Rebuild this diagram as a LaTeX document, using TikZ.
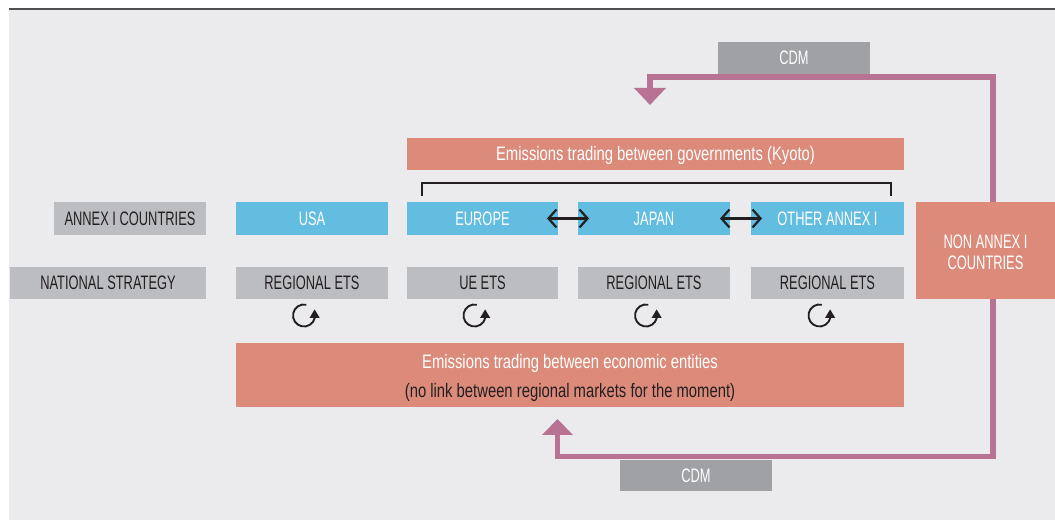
\documentclass[tikz,border=0pt]{standalone}
\usepackage{fontspec}
\setmainfont{Liberation Sans}[FakeStretch=0.66]
\newfontfamily\mixfont{Liberation Sans}[FakeStretch=0.76]
\usetikzlibrary{arrows.meta}
\definecolor{bg}{HTML}{EBEBED}
\definecolor{topline}{HTML}{505052}
\definecolor{lgray}{HTML}{BCBDC0}
\definecolor{dgray}{HTML}{A0A1A4}
\definecolor{cblue}{HTML}{62BDE1}
\definecolor{salmon}{HTML}{DC8B7B}
\definecolor{plum}{HTML}{B87394}
\definecolor{txtdark}{HTML}{231F20}
\begin{document}
\begin{tikzpicture}[x=1pt,y=1pt,
  base/.style={inner sep=0pt, outer sep=0pt, align=center, font=\fontsize{19.5}{21}\selectfont},
  mixed/.style={font=\mixfont\fontsize{19.5}{21}\selectfont},
  graybox/.style={base, fill=lgray, text=txtdark},
  cdmbox/.style={base, fill=dgray, text=white},
  bluebox/.style={base, fill=cblue, text=white},
  salmonbox/.style={base, fill=salmon, text=white},
  cdmline/.style={draw=plum, line width=5.5pt, line cap=butt, line join=miter},
  dbl/.style={draw=txtdark, line width=2.2pt, {Straight Barb[length=8pt,width=18pt]}-{Straight Barb[length=8pt,width=18pt]}},
  cyc/.style={draw=txtdark, line width=1.9pt, -{Triangle[length=8.5pt,width=9.5pt]}},
  brk/.style={draw=txtdark, line width=1.1pt}
]
\useasboundingbox (0,0) rectangle (1055,521);
\fill[bg] (9,1) rectangle (1055,512);
\draw[topline, line width=2pt] (9,512) -- (1055,512);

% purple CDM loops (behind the NON ANNEX box)
\coordinate (vmid) at (993,270);
\coordinate (tturn) at (993,444);
\coordinate (ttip) at (650,416);
\coordinate (bturn) at (993,64.5);
\coordinate (btip) at (557.5,102);
\draw[cdmline, -{Triangle[length=17pt,width=31pt]}] (vmid) -- (tturn) -| (ttip);
\draw[cdmline, -{Triangle[length=16pt,width=30pt]}] (vmid) -- (bturn) -| (btip);

\node[cdmbox, minimum width=152pt, minimum height=32pt] (cdm1) at (794,463) {CDM};
\node[cdmbox, minimum width=152pt, minimum height=31pt] (cdm2) at (696,45.5) {CDM};

\node[salmonbox, mixed, text depth=2pt, minimum width=497pt, minimum height=32pt] (gov) at (655.5,367) {Emissions trading between governments (Kyoto)};
\draw[brk] (422,325) -- (422,338) -- (891,338) -- (891,325);

% row 1
\node[graybox, minimum width=152pt, minimum height=33pt] (annex) at (130,302.5) {ANNEX I COUNTRIES};
\node[bluebox, minimum width=152pt, minimum height=33pt] (usa) at (312,302.5) {USA};
\node[bluebox, minimum width=151pt, minimum height=33pt] (europe) at (482.5,302.5) {EUROPE};
\node[bluebox, minimum width=152pt, minimum height=33pt] (japan) at (654,302.5) {JAPAN};
\node[bluebox, minimum width=153pt, minimum height=33pt] (other) at (827.5,302.5) {OTHER ANNEX I};
\draw[dbl] ([xshift=-11pt]europe.east) -- ([xshift=11pt]japan.west);
\draw[dbl] ([xshift=-10pt]japan.east) -- ([xshift=11pt]other.west);

\node[salmonbox, minimum width=139pt, minimum height=97pt] (nonannex) at (985.5,270.5) {};
\node[base, text=white] (nonannextext) at (985.5,269) {NON ANNEX I\\COUNTRIES};

% row 2
\node[graybox, minimum width=196pt, minimum height=32pt] (nat) at (108,238) {NATIONAL STRATEGY};
\node[graybox, minimum width=152pt, minimum height=32pt] (r1) at (312,238) {REGIONAL ETS};
\node[graybox, minimum width=151pt, minimum height=32pt] (ue) at (482.5,238) {UE ETS};
\node[graybox, minimum width=152pt, minimum height=32pt] (r3) at (654,238) {REGIONAL ETS};
\node[graybox, minimum width=153pt, minimum height=32pt] (r4) at (827.5,238) {REGIONAL ETS};

% cycle arrows
\coordinate (c1) at (304,205.5);
\coordinate (c2) at (474.5,205.5);
\coordinate (c3) at (646,205.5);
\coordinate (c4) at (819.5,205.5);
\foreach \c in {c1,c2,c3,c4}
  \draw[cyc] ([shift={(78:11pt)}]\c) arc[start angle=78, end angle=345, radius=11pt] -- ++(0,9pt);

% bottom box
\node[salmonbox, minimum width=668pt, minimum height=64pt] (econ) at (570,146) {};
\node[base, mixed, text=white] (econ1) at (570,157.5) {Emissions trading between economic entities};
\node[base, mixed, text=txtdark] (econ2) at (570,128.5) {(no link between regional markets for the moment)};
\end{tikzpicture}
\end{document}
